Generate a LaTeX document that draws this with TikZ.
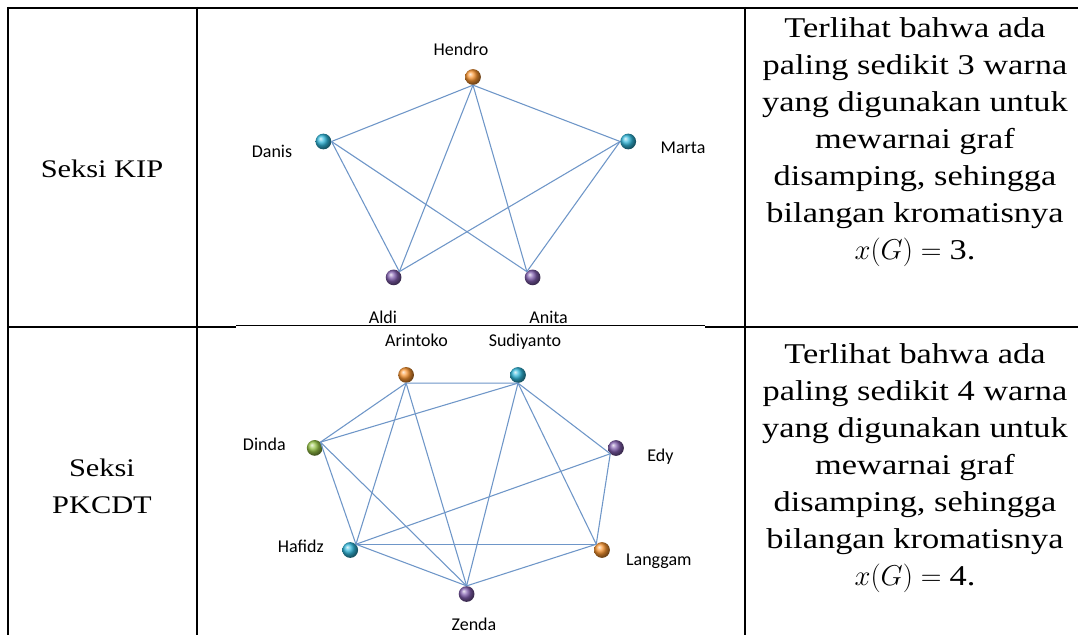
\RequirePackage{fix-cm}
\documentclass[tikz,border=0pt]{standalone}
\usepackage{fontspec}
\setmainfont{Liberation Serif}
\newfontfamily\labfont{Carlito}
\newfontfamily\txtfont[FakeStretch=1.2]{Liberation Serif}
\definecolor{corange}{RGB}{250,150,50}
\definecolor{ccyan}{RGB}{50,185,220}
\definecolor{cpurple}{RGB}{130,95,175}
\definecolor{cgreen}{RGB}{150,195,70}
\definecolor{edgeblue}{RGB}{110,150,200}
\begin{document}
\begin{tikzpicture}[x=0.75pt,y=-0.75pt,
  tabrule/.style={line width=1.5pt, black},
  thinrule/.style={line width=0.8pt, black},
  gedge/.style={draw=edgeblue, line width=0.8pt},
  ballnode/.style={circle, inner sep=0pt, minimum size=11.8pt, shading=ball, ball color=#1},
  lbl/.style={font=\labfont\fontsize{13.5}{16}\selectfont, inner sep=0pt, anchor=base},
  celltext/.style={font=\txtfont\fontsize{21.5}{27.75}\selectfont, align=center, inner sep=0pt},
  seksi/.style={font=\txtfont\fontsize{19}{27.75}\selectfont, align=center, inner sep=0pt}]
\useasboundingbox (0,0) rectangle (1078,635);
\fill[white] (0,0) rectangle (1078,635);

% table rules
\draw[tabrule] (7.2,7.7) -- (1078,7.7);
\draw[tabrule] (8,7) -- (8,635);
\draw[tabrule] (197,7) -- (197,635);
\draw[tabrule] (745,7) -- (745,635);
\draw[tabrule] (7.2,326.7) -- (236,326.7);
\draw[thinrule] (236,325.6) -- (705,325.6);
\draw[tabrule] (705,326.7) -- (1078,326.7);

% left column
\node[seksi] (s1) at (102,168.5) {Seksi KIP};
\node[seksi] (s2) at (102,486) {Seksi\\PKCDT};

% right column
\node[celltext] (t1) at (915,142) {Terlihat bahwa ada\\paling sedikit 3 warna\\yang digunakan untuk\\mewarnai graf\\disamping, sehingga\\bilangan kromatisnya\\$x(G) = {}$3.};
\node[celltext] (t2) at (915,468) {Terlihat bahwa ada\\paling sedikit 4 warna\\yang digunakan untuk\\mewarnai graf\\disamping, sehingga\\bilangan kromatisnya\\$x(G) = {}$4.};

% graph 1
\node[ballnode=corange] (H) at (473,77) {};
\node[ballnode=ccyan] (D) at (323.4,141.5) {};
\node[ballnode=ccyan] (M) at (628.2,141.5) {};
\node[ballnode=cpurple] (Al) at (393.6,277.4) {};
\node[ballnode=cpurple] (An) at (532.6,277.4) {};
\node[lbl] (lH) at (461,55.6) {Hendro};
\node[lbl] (lD) at (272,157) {Danis};
\node[lbl] (lM) at (683,153) {Marta};
\node[lbl] (lAl) at (383,323) {Aldi};
\node[lbl] (lAn) at (548.6,323) {Anita};
\draw[gedge] (H.south) -- (D.east);
\draw[gedge] (H.south) -- (M.west);
\draw[gedge] (H.south) -- (Al.north east);
\draw[gedge] (H.south) -- (An.north west);
\draw[gedge] (D.east) -- (Al.north east);
\draw[gedge] (D.east) -- (An.north west);
\draw[gedge] (M.west) -- (Al.north east);
\draw[gedge] (M.west) -- (An.north west);

% graph 2
\node[ballnode=corange] (Ar) at (406.1,374.9) {};
\node[ballnode=ccyan] (Su) at (518,375) {};
\node[ballnode=cgreen] (Di) at (314.7,447.9) {};
\node[ballnode=cpurple] (Ed) at (616,448) {};
\node[ballnode=ccyan] (Ha) at (350.2,550) {};
\node[ballnode=corange] (La) at (602,550) {};
\node[ballnode=cpurple] (Ze) at (466.6,594) {};
\node[lbl] (lAr) at (416.5,346) {Arintoko};
\node[lbl] (lSu) at (525,346) {Sudiyanto};
\node[lbl] (lDi) at (264.3,450.3) {Dinda};
\node[lbl] (lEd) at (660.5,461.5) {Edy};
\node[lbl] (lHa) at (300.8,552) {Hafidz};
\node[lbl] (lLa) at (658.8,565) {Langgam};
\node[lbl] (lZe) at (474,630) {Zenda};
\draw[gedge] (Ar.south) -- (Su.south);
\draw[gedge] (Ar.south) -- (Di.north east);
\draw[gedge] (Ar.south) -- (Ha.north east);
\draw[gedge] (Ar.south) -- (Ze.north);
\draw[gedge] (Su.south) -- (Di.north east);
\draw[gedge] (Su.south) -- (Ed.south west);
\draw[gedge] (Su.south) -- (Ze.north);
\draw[gedge] (Su.south) -- (La.north west);
\draw[gedge] (Di.north east) -- (Ha.north east);
\draw[gedge] (Di.north east) -- (Ze.north);
\draw[gedge] (Ed.south west) -- (Ha.north east);
\draw[gedge] (Ed.south west) -- (La.north west);
\draw[gedge] (Ha.north east) -- (La.north west);
\draw[gedge] (Ha.north east) -- (Ze.north);
\draw[gedge] (La.north west) -- (Ze.north);
\end{tikzpicture}
\end{document}
